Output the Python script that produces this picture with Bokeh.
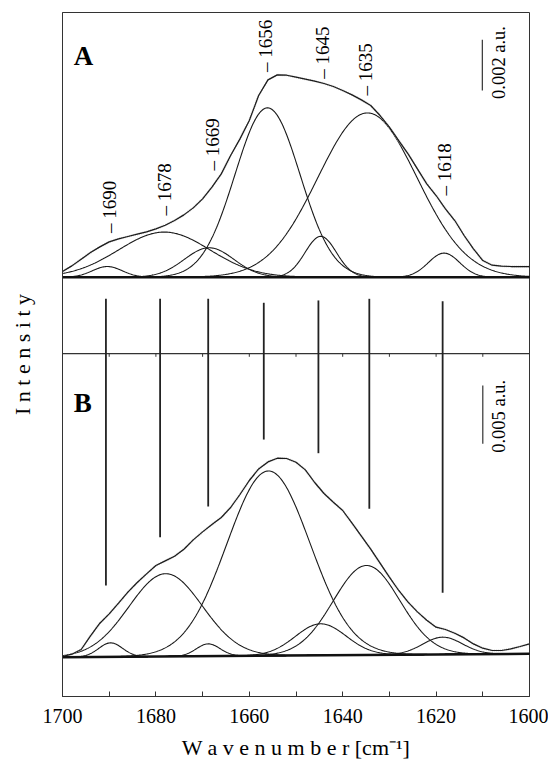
import numpy as np
from bokeh.plotting import figure
from bokeh.models import Range1d, FixedTicker
from bokeh.embed import file_html
from bokeh.resources import INLINE
from bokeh.core.properties import value

# ---------------- data (y in 10^-3 a.u.) ----------------
wn_grid = np.arange(1700, 1599, -2)          # sampling of the measured spectra

# Panel A : measured spectrum
spec_A = [0.224, 0.447, 0.710, 0.973, 1.196, 1.394, 1.512, 1.604, 1.696, 1.788,
          1.907, 2.051, 2.236, 2.459, 2.735, 3.090, 3.550, 4.076, 4.800, 5.457,
          6.180, 7.166, 7.784, 7.981, 7.968, 7.890, 7.811, 7.732, 7.640, 7.521,
          7.364, 7.193, 6.995, 6.772, 6.378, 5.917, 5.391, 4.865, 4.273, 3.682,
          3.222, 2.695, 2.236, 1.644, 1.118, 0.658, 0.473, 0.434, 0.421, 0.421, 0.421]
# Panel A : fitted bands
cen_A = [1690.4, 1678.2, 1668.6, 1656.1, 1644.7, 1634.7, 1618.3]
hgt_A = [0.42, 1.78, 1.16, 6.68, 1.61, 6.48, 0.95]
fwhm_A = [7.5, 23.0, 12.5, 16.4, 7.9, 25.0, 7.9]
lab_A = ["1690", "1678", "1669", "1656", "1645", "1635", "1618"]
lab_A_x = [1690.0, 1678.2, 1667.9, 1656.5, 1644.3, 1635.1, 1618.3]
lab_A_y = [1.74, 2.43, 4.21, 8.09, 7.83, 7.17, 3.22]

# Panel B : measured spectrum
spec_B = [0.057, 0.257, 0.657, 1.825, 2.913, 3.710, 4.627, 5.570, 6.401, 7.138,
          7.858, 8.252, 8.655, 9.254, 10.051, 10.737, 11.371, 11.971, 12.828, 13.942,
          15.141, 16.135, 16.735, 17.052, 17.027, 16.710, 16.050, 14.970, 14.027, 13.282,
          12.571, 11.482, 10.368, 9.254, 8.055, 6.855, 5.716, 4.713, 3.882, 3.171,
          2.571, 2.374, 2.057, 1.654, 1.140, 0.771, 0.574, 0.574, 0.711, 0.917, 1.140]
cen_B = [1689.7, 1677.9, 1668.8, 1655.9, 1644.7, 1634.9, 1618.6]
hgt_B = [1.20, 7.09, 1.05, 15.83, 2.70, 7.67, 1.48]
fwhm_B = [6.0, 18.5, 6.0, 21.0, 12.8, 16.8, 10.0]
base_B_x = [1700, 1600]
base_B_y = [0.0, 0.29]

# band position markers
mark_x = [1690.7, 1679.1, 1668.8, 1656.9, 1645.2, 1634.3, 1618.6]
mark_top = [30.71, 30.71, 30.71, 30.37, 30.57, 30.71, 30.51]
mark_bot = [6.14, 10.28, 12.91, 18.65, 17.48, 12.72, 5.52]

x_ticks = list(range(1600, 1701, 10))

# ---------------- figure ----------------
SERIF = "Liberation Serif"
INK = "#1a1a1a"

p = figure(width=548, height=765, output_backend="svg", toolbar_location=None,
           x_range=Range1d(1700, 1600), y_range=Range1d(-3.368, 55.244),
           min_border_left=62, min_border_right=19, min_border_top=12,
           min_border_bottom=69)
p.extra_y_ranges = {"A": Range1d(-16.541, 10.442)}
p.xgrid.visible = False
p.ygrid.visible = False
p.outline_line_color = "#333333"
p.background_fill_color = "white"
p.border_fill_color = "white"

xa = p.xaxis[0]
xa.ticker = FixedTicker(ticks=x_ticks)
xa.major_label_overrides = {t: ("" if t % 20 else str(t)) for t in x_ticks}
xa.major_tick_in = 5
xa.major_tick_out = 0
xa.minor_tick_in = 0
xa.minor_tick_out = 0
xa.axis_line_color = "#333333"
xa.major_tick_line_color = "#333333"
xa.major_label_text_font = SERIF
xa.major_label_text_font_size = "20px"
xa.major_label_text_color = "black"
xa.major_label_standoff = 12
xa.axis_label = "W a v e n u m b e r [cm\u207b\u00b9]"
xa.axis_label_text_font = SERIF
xa.axis_label_text_font_size = "22px"
xa.axis_label_text_font_style = "normal"
xa.axis_label_text_color = "black"
xa.axis_label_standoff = 9

ya = p.yaxis[0]
ya.ticker = FixedTicker(ticks=[])
ya.major_tick_in = 0
ya.major_tick_out = 0
ya.minor_tick_in = 0
ya.minor_tick_out = 0
ya.major_label_standoff = 0
ya.axis_line_color = "#333333"
ya.axis_label = "I n t e n s i t y"
ya.axis_label_text_font = SERIF
ya.axis_label_text_font_size = "22px"
ya.axis_label_text_font_style = "normal"
ya.axis_label_text_color = "black"
ya.axis_label_standoff = 28

wn_fine = np.linspace(1700, 1600, 501)

def gauss(c, h, fw):
    s = fw / 2.3548
    return h * np.exp(-0.5 * ((wn_fine - c) / s) ** 2)

HALO = dict(line_color="#c4c4c4", line_width=2.2, line_dash="1 1")

# ---- panel A ----
for c, h, fw in zip(cen_A, hgt_A, fwhm_A):
    p.line(wn_fine, gauss(c, h, fw), y_range_name="A", line_color=INK, line_width=1.1)
p.line(wn_grid, spec_A, y_range_name="A", **HALO)
p.line(wn_grid, spec_A, y_range_name="A", line_color=INK, line_width=1.2)
p.line([1700, 1600], [0, 0], y_range_name="A", line_color="#111111", line_width=2.6)

p.text(x=lab_A_x, y=lab_A_y, text=["\u2013 " + t for t in lab_A], y_range_name="A",
       angle=np.pi / 2, text_align="left", text_baseline="middle",
       text_font=value(SERIF), text_font_size="19px", text_color="black")
p.text(x=[1697.6], y=[8.72], text=["A"], y_range_name="A", text_align="left",
       text_baseline="alphabetic", text_font=value(SERIF), text_font_size="27px",
       text_font_style="bold", text_color="black")
p.segment(x0=[1610.1], y0=[9.365], x1=[1610.1], y1=[7.365], y_range_name="A",
          line_color="#333333", line_width=1.2)
p.text(x=[1606.5], y=[8.47], text=["0.002 a.u."], y_range_name="A", angle=np.pi / 2,
       text_align="center", text_baseline="middle", text_font=value(SERIF),
       text_font_size="18.5px", text_color="black")

# ---- separator between panels ----
p.line([1700, 1600], [26.02, 26.02], line_color="#333333", line_width=1.2)
p.segment(x0=x_ticks, y0=[26.02] * len(x_ticks), x1=x_ticks, y1=[25.74] * len(x_ticks),
          line_color="#333333", line_width=1)

# ---- panel B ----
base_fine = np.interp(wn_fine, base_B_x[::-1], base_B_y[::-1])
for c, h, fw in zip(cen_B, hgt_B, fwhm_B):
    p.line(wn_fine, base_fine + gauss(c, h, fw), line_color=INK, line_width=1.1)
p.line(wn_grid, spec_B, **HALO)
p.line(wn_grid, spec_B, line_color=INK, line_width=1.2)
p.line(base_B_x, base_B_y, line_color="#111111", line_width=2.6)

p.segment(x0=mark_x, y0=mark_top, x1=mark_x, y1=mark_bot, line_color="#222222", line_width=1.8)

p.text(x=[1697.6], y=[21.8], text=["B"], text_align="left", text_baseline="alphabetic",
       text_font=value(SERIF), text_font_size="27px", text_font_style="bold",
       text_color="black")
p.segment(x0=[1610.0], y0=[23.28], x1=[1610.0], y1=[18.28], line_color="#333333", line_width=1.2)
p.text(x=[1606.6], y=[20.64], text=["0.005 a.u."], angle=np.pi / 2,
       text_align="center", text_baseline="middle", text_font=value(SERIF),
       text_font_size="18.5px", text_color="black")

open("out.html", "w").write(file_html(p, INLINE))
